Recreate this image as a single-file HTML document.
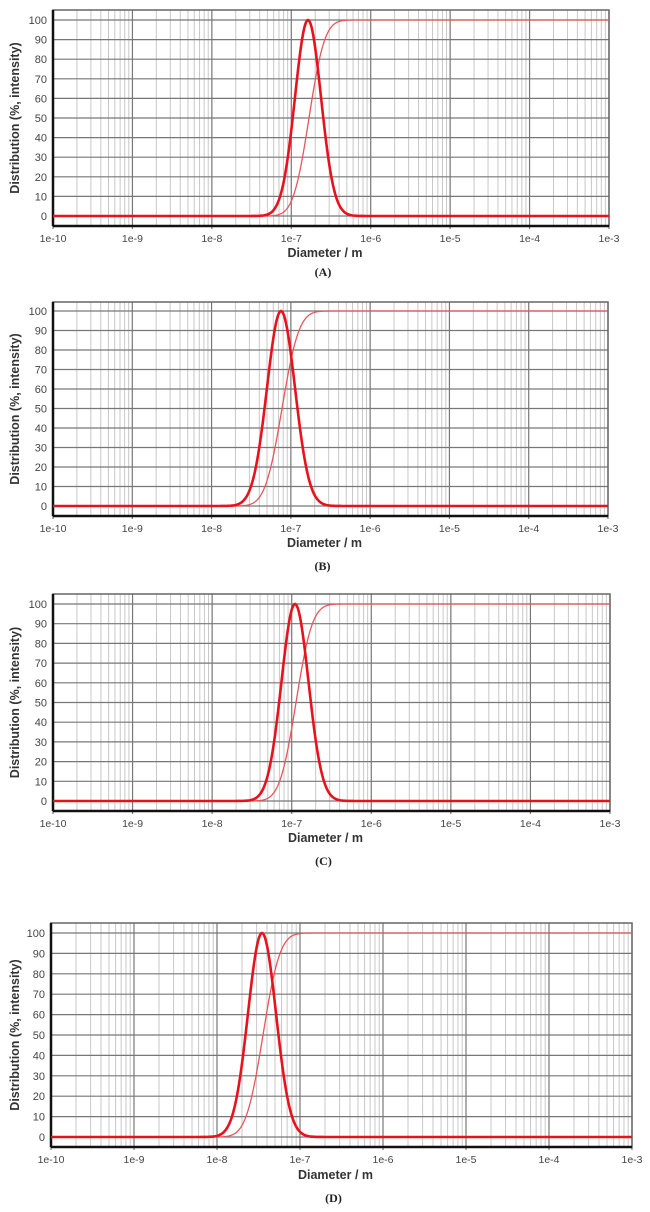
<!DOCTYPE html>
<html><head><meta charset="utf-8"><style>
html,body{margin:0;padding:0;background:#fff;width:650px;height:1212px;overflow:hidden}
svg{display:block}
</style></head><body>
<svg id="s" width="650" height="1212" xmlns="http://www.w3.org/2000/svg" font-family="Liberation Sans, sans-serif"></svg>
<script>
const P=[
{x0:53,x1:609,top:10,y100:20,y0:216,bot:226,pk:308,sg:13,ly:238,ty:253,cy:272,c:"(A)"},
{x0:53,x1:608,top:302,y100:311,y0:506,bot:516,pk:281,sg:14,ly:528,ty:543,cy:566,c:"(B)"},
{x0:53,x1:610,top:594,y100:604,y0:801,bot:811,pk:295,sg:13.5,ly:823,ty:838,cy:861,c:"(C)"},
{x0:51,x1:632,top:923,y100:933,y0:1137,bot:1147,pk:262,sg:14,ly:1159,ty:1175,cy:1198,c:"(D)"}];
function erf(x){const t=1/(1+0.3275911*Math.abs(x));const y=1-(((((1.061405429*t-1.453152027)*t)+1.421413741)*t-0.284496736)*t+0.254829592)*t*Math.exp(-x*x);return x>=0?y:-y;}
let h="";
for(const p of P){
 const d=(p.x1-p.x0)/7, yv=v=>p.y0-(p.y0-p.y100)*v/100;
 for(let k=0;k<7;k++)for(let m=2;m<10;m++){const x=p.x0+d*(k+Math.log10(m));h+=`<line x1="${x}" y1="${p.top}" x2="${x}" y2="${p.bot}" stroke="#c8c8c8" stroke-width="1"/>`;}
 for(let v=0;v<=100;v+=10){const y=yv(v);h+=`<line x1="${p.x0}" y1="${y}" x2="${p.x1}" y2="${y}" stroke="#777" stroke-width="1.2"/>`;
  h+=`<text x="${p.x0-6}" y="${y+4}" font-size="11" fill="#444" text-anchor="end">${v}</text>`;}
 for(let k=0;k<=7;k++){const x=p.x0+d*k;h+=`<line x1="${x}" y1="${p.top}" x2="${x}" y2="${p.bot+3}" stroke="#777" stroke-width="1.2"/>`;
  h+=`<text x="${x}" y="${p.ly+4}" font-size="10.5" fill="#444" text-anchor="middle">1e-${10-k}</text>`;}
 h+=`<rect x="${p.x0}" y="${p.top}" width="${p.x1-p.x0}" height="${p.bot-p.top}" fill="none" stroke="#666" stroke-width="1.5"/>`;
 h+=`<line x1="${p.x0}" y1="${p.top}" x2="${p.x0}" y2="${p.bot}" stroke="#111" stroke-width="2.5"/>`;
 h+=`<line x1="${p.x0}" y1="${p.bot}" x2="${p.x1}" y2="${p.bot}" stroke="#111" stroke-width="2.5"/>`;
 let b="",c="";
 for(let x=p.x0;x<=p.x1;x+=1){const z=(x-p.pk)/p.sg;b+=(x==p.x0?"M":"L")+x+","+yv(100*Math.exp(-z*z/2)).toFixed(2);
  const cc=50*(1+erf((x-p.pk-1)/(p.sg*0.95*Math.SQRT2)));c+=(x==p.x0?"M":"L")+x+","+yv(cc).toFixed(2);}
 h+=`<path d="${c}" fill="none" stroke="#e5575c" stroke-width="1.3"/>`;
 h+=`<path d="${b}" fill="none" stroke="#e8121c" stroke-width="2.6"/>`;
 const cx=(p.x0+p.x1)/2-6, cym=(p.top+p.bot)/2;
 h+=`<text x="${cx}" y="${p.ty+4}" font-size="12.5" font-weight="bold" fill="#333" text-anchor="middle">Diameter / m</text>`;
 h+=`<text x="${cx-2}" y="${p.cy+4}" font-size="12" font-weight="bold" fill="#222" text-anchor="middle" font-family="Liberation Serif, serif">${p.c}</text>`;
 h+=`<text x="0" y="0" font-size="12.5" font-weight="bold" fill="#333" text-anchor="middle" transform="translate(19,${cym}) rotate(-90)">Distribution (%, intensity)</text>`;
}
document.getElementById("s").innerHTML=h;
</script>
</body></html>
